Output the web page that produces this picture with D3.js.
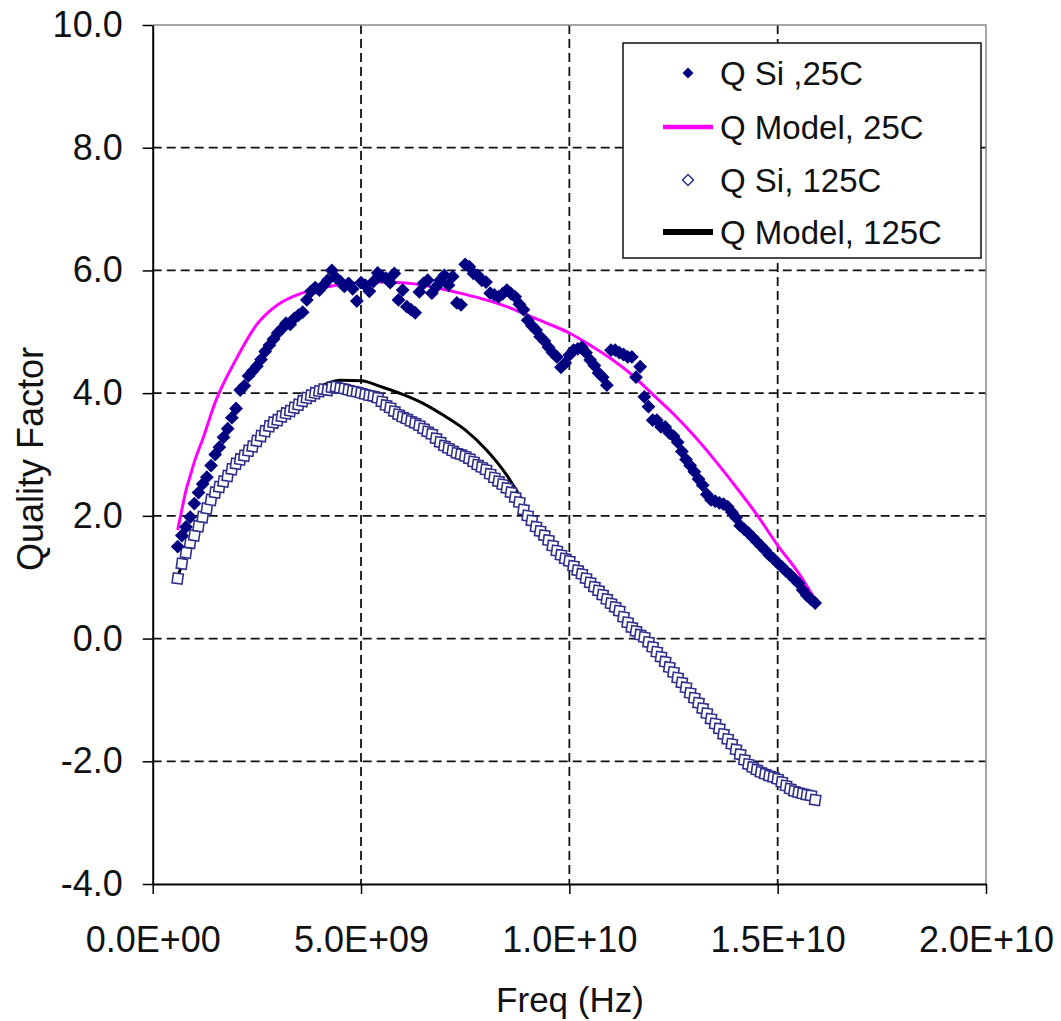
<!DOCTYPE html>
<html>
<head>
<meta charset="utf-8">
<script src="https://cdn.jsdelivr.net/npm/d3@7"></script>
<style>
	body { margin: 0; background: #fff; }
	text { font-family: "Liberation Sans", Arial, sans-serif; fill: #111; }
</style>
</head>
<body>
<div id="main"></div>
<script>
// frequencies in GHz (plotted in Hz)
var freq = [
	0.6,0.7,0.8,0.9,1.0,1.1,1.2,1.3,1.4,1.5,
	1.6,1.7,1.8,1.9,2.0,2.1,2.2,2.3,2.4,2.5,
	2.6,2.7,2.8,2.9,3.0,3.1,3.2,3.3,3.4,3.5,
	3.6,3.7,3.8,3.9,4.0,4.1,4.2,4.3,4.4,4.5,
	4.6,4.7,4.8,4.9,5.0,5.1,5.2,5.3,5.4,5.5,
	5.6,5.7,5.8,5.9,6.0,6.1,6.2,6.3,6.4,6.5,
	6.6,6.7,6.8,6.9,7.0,7.1,7.2,7.3,7.4,7.5,
	7.6,7.7,7.8,7.9,8.0,8.1,8.2,8.3,8.4,8.5,
	8.6,8.7,8.8,8.9,9.0,9.1,9.2,9.3,9.4,9.5,
	9.6,9.7,9.8,9.9,10.0,10.1,10.2,10.3,10.4,10.5,
	10.6,10.7,10.8,10.9,11.0,11.1,11.2,11.3,11.4,11.5,
	11.6,11.7,11.8,11.9,12.0,12.1,12.2,12.3,12.4,12.5,
	12.6,12.7,12.8,12.9,13.0,13.1,13.2,13.3,13.4,13.5,
	13.6,13.7,13.8,13.9,14.0,14.1,14.2,14.3,14.4,14.5,
	14.6,14.7,14.8,14.9,15.0,15.1,15.2,15.3,15.4,15.5,
	15.6,15.7,15.8,15.9];

var qSi25 = [
	1.50,1.68,1.82,1.98,2.20,2.38,2.52,2.63,2.82,3.00,
	3.12,3.28,3.42,3.60,3.75,4.05,4.12,4.28,4.36,4.44,
	4.55,4.68,4.78,4.88,4.98,5.05,5.14,5.12,5.22,5.27,
	5.32,5.52,5.66,5.72,5.68,5.76,5.84,6.00,5.88,5.82,
	5.74,5.79,5.70,5.50,5.80,5.76,5.66,5.82,5.96,5.90,
	5.87,5.80,5.95,5.52,5.68,5.41,5.36,5.31,5.65,5.79,
	5.84,5.63,5.73,5.84,5.92,5.76,5.90,5.47,5.44,6.10,
	6.06,5.95,5.92,5.84,5.81,5.63,5.60,5.57,5.62,5.68,
	5.62,5.57,5.45,5.36,5.19,5.10,5.03,4.92,4.85,4.75,
	4.66,4.59,4.42,4.49,4.62,4.70,4.72,4.75,4.66,4.54,
	4.45,4.33,4.26,4.13,4.70,4.70,4.66,4.63,4.59,4.59,
	4.26,4.43,3.94,3.78,3.56,3.56,3.45,3.45,3.35,3.30,
	3.20,3.05,2.92,2.82,2.72,2.60,2.50,2.35,2.26,2.24,
	2.21,2.19,2.15,2.06,1.97,1.84,1.78,1.72,1.65,1.58,
	1.51,1.44,1.36,1.30,1.23,1.17,1.10,1.04,0.97,0.90,
	0.79,0.70,0.64,0.58];

var qSi125 = [
	0.98,1.22,1.40,1.56,1.68,1.83,1.98,2.12,2.26,2.38,
	2.47,2.56,2.65,2.76,2.85,2.92,2.98,3.06,3.13,3.22,
	3.30,3.38,3.46,3.52,3.56,3.62,3.67,3.71,3.76,3.81,
	3.87,3.92,3.96,4.00,4.03,4.06,4.05,4.09,4.10,4.08,
	4.07,4.05,4.03,4.02,4.00,3.98,3.96,3.95,3.92,3.86,
	3.80,3.76,3.70,3.65,3.61,3.58,3.54,3.51,3.47,3.42,
	3.37,3.33,3.26,3.20,3.14,3.10,3.06,3.02,3.00,2.97,
	2.93,2.88,2.83,2.79,2.75,2.68,2.62,2.56,2.51,2.45,
	2.38,2.30,2.22,2.10,2.00,1.92,1.82,1.75,1.68,1.60,
	1.51,1.43,1.36,1.30,1.26,1.18,1.11,1.05,0.98,0.91,
	0.84,0.78,0.71,0.64,0.57,0.51,0.45,0.35,0.26,0.18,
	0.12,0.06,0.02,-0.06,-0.14,-0.22,-0.30,-0.38,-0.47,-0.55,
	-0.64,-0.72,-0.80,-0.89,-0.97,-1.05,-1.14,-1.22,-1.31,-1.39,
	-1.47,-1.56,-1.64,-1.72,-1.81,-1.89,-1.98,-2.05,-2.10,-2.14,
	-2.18,-2.21,-2.24,-2.26,-2.29,-2.34,-2.40,-2.45,-2.49,-2.51,
	-2.53,-2.55,-2.56,-2.63];

var modelFreq25 = [0.6,0.7,0.8,0.9,1.0,1.2,1.5,2.0,2.5,3.0,3.5,4.0,4.5,5.0,5.5,6.0,6.5,7.0,7.5,8.0,
	8.5,9.0,9.5,10.0,10.5,11.0,11.5,12.0,12.5,13.0,13.5,14.0,14.5,15.0,15.5,15.9];
var qModel25 = [1.77,2.10,2.42,2.65,2.88,3.25,3.85,4.55,5.12,5.44,5.61,5.70,5.77,5.80,5.81,5.80,5.76,5.69,5.61,5.52,
	5.41,5.27,5.13,4.98,4.78,4.56,4.30,3.98,3.66,3.30,2.90,2.47,2.02,1.52,1.07,0.63];

var modelFreq125 = [0.6,0.8,1.0,1.5,2.0,2.5,3.0,3.5,4.0,4.5,5.0,5.5,6.0,6.5,7.0,7.5,8.0,8.5,8.9];
var qModel125 = [1.00,1.40,1.70,2.40,2.87,3.24,3.58,3.87,4.10,4.21,4.20,4.10,3.98,3.83,3.63,3.40,3.08,2.66,2.22];

var xTicks = [0, 5e9, 1e10, 1.5e10, 2e10];
var yTicks = [-4, -2, 0, 2, 4, 6, 8, 10];
var legendNames = ["Q Si ,25C", "Q Model, 25C", "Q Si, 125C", "Q Model, 125C"];

var W = 1061, H = 1021;
var x = d3.scaleLinear().domain([0, 2e10]).range([152.7, 986]);
var y = d3.scaleLinear().domain([-4, 10]).range([884, 25]);

function expFmt(v){
	if(v == 0) return "0.0E+00";
	var e = Math.floor(Math.log10(v));
	var m = v / Math.pow(10, e);
	return m.toFixed(1) + "E+" + (e < 10 ? "0" + e : e);
}

function pts(fs, qs){
	return fs.map(function(f, i){ return [f * 1e9, qs[i]]; });
}

var svg = d3.select("#main").append("svg")
	.attr("width", W).attr("height", H)
	.style("background", "#fff");

// grid
svg.append("g").selectAll("line").data(yTicks.filter(function(d){ return d > -4 && d < 10; }))
	.enter().append("line")
	.attr("x1", x(0)).attr("x2", x(2e10))
	.attr("y1", function(d){ return y(d); }).attr("y2", function(d){ return y(d); })
	.attr("stroke", "#111").attr("stroke-width", 1.8).attr("stroke-dasharray", "9,5");
svg.append("g").selectAll("line").data(xTicks.filter(function(d){ return d > 0 && d < 2e10; }))
	.enter().append("line")
	.attr("y1", y(10)).attr("y2", y(-4))
	.attr("x1", function(d){ return x(d); }).attr("x2", function(d){ return x(d); })
	.attr("stroke", "#111").attr("stroke-width", 1.8).attr("stroke-dasharray", "9,5");

// top and right border
svg.append("path")
	.attr("d", "M" + x(0) + "," + y(10) + "H" + x(2e10) + "V" + y(-4))
	.attr("fill", "none").attr("stroke", "#8a8a8a").attr("stroke-width", 1.5);

// axes
var yAxis = svg.append("g")
	.attr("transform", "translate(" + x(0) + ",0)")
	.call(d3.axisLeft(y).tickValues(yTicks).tickSize(10).tickSizeOuter(0).tickPadding(20)
		.tickFormat(function(d){ return d.toFixed(1); }));
var xAxis = svg.append("g")
	.attr("transform", "translate(0," + y(-4) + ")")
	.call(d3.axisBottom(x).tickValues(xTicks).tickSize(10).tickSizeOuter(0).tickPadding(32)
		.tickFormat(expFmt));
[xAxis, yAxis].forEach(function(a){
	a.select(".domain").attr("stroke", "#000").attr("stroke-width", 2);
	a.selectAll(".tick line").attr("stroke", "#000").attr("stroke-width", 1.5);
	a.selectAll(".tick text").attr("font-size", 36).attr("fill", "#111")
		.style("font-family", "'Liberation Sans', Arial, sans-serif");
});

// axis titles
svg.append("text")
	.attr("x", 570).attr("y", 1012)
	.attr("text-anchor", "middle").attr("font-size", 35)
	.text("Freq (Hz)");
svg.append("text")
	.attr("transform", "translate(43,459) rotate(-90)")
	.attr("text-anchor", "middle").attr("font-size", 36)
	.text("Quality Factor");

var line = d3.line()
	.x(function(d){ return x(d[0]); })
	.y(function(d){ return y(d[1]); })
	.curve(d3.curveMonotoneX);

// 125C model, then its markers
svg.append("path").datum(pts(modelFreq125, qModel125))
	.attr("d", line).attr("fill", "none").attr("stroke", "#000").attr("stroke-width", 3);

svg.append("g").selectAll("path").data(pts(freq, qSi125))
	.enter().append("path")
	.attr("d", d3.symbol(d3.symbolSquare, 100))
	.attr("transform", function(d){ return "translate(" + x(d[0]) + "," + y(d[1]) + ") rotate(8)"; })
	.attr("fill", "#fff").attr("stroke", "#30308c").attr("stroke-width", 1.6);

// 25C model, then its markers
svg.append("path").datum(pts(modelFreq25, qModel25))
	.attr("d", line).attr("fill", "none").attr("stroke", "#ff00ff").attr("stroke-width", 3);

svg.append("g").selectAll("path").data(pts(freq, qSi25))
	.enter().append("path")
	.attr("d", d3.symbol(d3.symbolSquare, 95))
	.attr("transform", function(d){ return "translate(" + x(d[0]) + "," + y(d[1]) + ") rotate(45)"; })
	.attr("fill", "#000080");

// legend
var lg = svg.append("g").attr("transform", "translate(623,43)");
lg.append("rect").attr("width", 358).attr("height", 215)
	.attr("fill", "#fff").attr("stroke", "#111").attr("stroke-width", 1.5);
var rowY = [30, 84, 137, 189];
lg.selectAll("text").data(legendNames)
	.enter().append("text")
	.attr("x", 97).attr("y", function(d, i){ return rowY[i]; })
	.attr("dy", "0.35em").attr("font-size", 33)
	.text(function(d){ return d; });
lg.append("path")
	.attr("d", d3.symbol(d3.symbolSquare, 60))
	.attr("transform", "translate(65," + rowY[0] + ") rotate(45)")
	.attr("fill", "#000080");
lg.append("line")
	.attr("x1", 40).attr("x2", 90).attr("y1", rowY[1]).attr("y2", rowY[1])
	.attr("stroke", "#ff00ff").attr("stroke-width", 4.5);
lg.append("path")
	.attr("d", d3.symbol(d3.symbolSquare, 60))
	.attr("transform", "translate(65," + rowY[2] + ") rotate(45)")
	.attr("fill", "#fff").attr("stroke", "#30308c").attr("stroke-width", 1.5);
lg.append("line")
	.attr("x1", 40).attr("x2", 90).attr("y1", rowY[3]).attr("y2", rowY[3])
	.attr("stroke", "#000").attr("stroke-width", 6);
</script>
</body>
</html>
